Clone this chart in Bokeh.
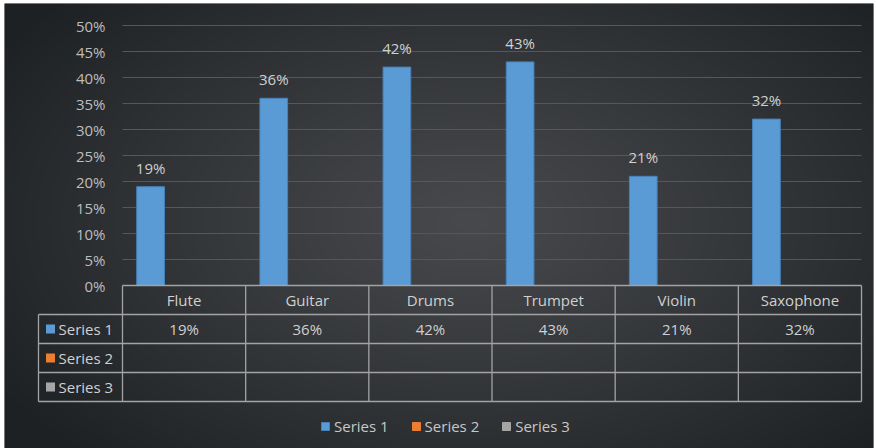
import numpy as np
from bokeh.plotting import figure
from bokeh.models import ColumnDataSource, Legend, LegendItem
from bokeh.core.properties import value
from bokeh.transform import dodge
from bokeh.embed import file_html
from bokeh.resources import INLINE

# ---- data -------------------------------------------------------------
categories = ["Flute", "Guitar", "Drums", "Trumpet", "Violin", "Saxophone"]
series_names = ["Series 1", "Series 2", "Series 3"]
series1 = [0.19, 0.36, 0.42, 0.43, 0.21, 0.32]
series2 = [None, None, None, None, None, None]
series3 = [None, None, None, None, None, None]
y_ticks = [0.0, 0.05, 0.10, 0.15, 0.20, 0.25, 0.30, 0.35, 0.40, 0.45, 0.50]
y_tick_labels = ["0%", "5%", "10%", "15%", "20%", "25%", "30%", "35%", "40%", "45%", "50%"]
series_colors = ["#5b9bd5", "#ed7d31", "#a5a5a5"]

# ---- page geometry (canvas pixels) ------------------------------------
W, H = 876, 448
PAD_L, PAD_T, PAD_R, PAD_B = 4, 3, 3, 0
X_ORIGIN = 122.0      # left edge of the first category column
CAT_W = 123.17        # width of one category column
Y_ORIGIN = 285.0      # pixel row of the 0% baseline
UNIT_H = 520.0        # pixels per 1.0 (100%)
ROW_H = 29.0          # data-table row height
TABLE_LEFT = 38.0

def px_x(px):
    return (px - X_ORIGIN) / CAT_W

def px_y(py):
    return (Y_ORIGIN - py) / UNIT_H

x_start, x_end = px_x(PAD_L), px_x(W - PAD_R)
y_start, y_end = px_y(H - PAD_B), px_y(PAD_T)

FONT = value("Open Sans")
FS = "15px"
TXT = "#d0d0d0"

p = figure(width=W, height=H, output_backend="svg", toolbar_location=None,
           x_range=(x_start, x_end), y_range=(y_start, y_end),
           x_axis_location=None, y_axis_location=None,
           min_border_left=PAD_L, min_border_right=PAD_R,
           min_border_top=PAD_T, min_border_bottom=PAD_B)
p.grid.visible = False
p.outline_line_color = None
p.border_fill_color = "white"
p.background_fill_color = "#2c2f32"

# ---- radial dark background -----------------------------------------------
fw, fh = W - PAD_L - PAD_R, H - PAD_T - PAD_B
yy, xx = np.mgrid[0:fh, 0:fw]
cx, cy = 470.0, 220.0
pxs = xx + PAD_L + 0.5
pys = (H - PAD_B) - (yy + 0.5)
d = np.sqrt(((pxs - cx) / 560.0) ** 2 + ((pys - cy) / 330.0) ** 2)
t = np.clip(d, 0, 1) ** 1.1
c_in = np.array([0x47, 0x49, 0x4c], dtype=float)
c_out = np.array([0x1e, 0x21, 0x24], dtype=float)
rgb = c_in[None, None, :] * (1 - t[..., None]) + c_out[None, None, :] * t[..., None]
img = np.empty((fh, fw), dtype=np.uint32)
view = img.view(dtype=np.uint8).reshape((fh, fw, 4))
view[..., 0] = rgb[..., 0].astype(np.uint8)
view[..., 1] = rgb[..., 1].astype(np.uint8)
view[..., 2] = rgb[..., 2].astype(np.uint8)
view[..., 3] = 255
p.image_rgba(image=[img], x=x_start, y=y_start, dw=x_end - x_start, dh=y_end - y_start,
             level="image")

# ---- gridlines and value-axis labels -------------------------------------
n_cat = len(categories)
grid_y = [v for v in y_ticks if v > 0]
p.segment(x0=[0] * len(grid_y), x1=[n_cat] * len(grid_y), y0=grid_y, y1=grid_y,
          line_color="#55585b", line_width=1)
p.text(x=[0] * len(y_ticks), y=y_ticks, text=y_tick_labels, x_offset=-17,
       text_align="right", text_baseline="middle", text_font=FONT,
       text_font_size=FS, text_color="#bdbdbd")

# ---- bars -------------------------------------------------------------------
src = ColumnDataSource(dict(
    x=[i + 0.5 for i in range(n_cat)],
    s1=series1,
    s2=[np.nan if v is None else v for v in series2],
    s3=[np.nan if v is None else v for v in series3],
    lbl=[f"{round(v * 100)}%" for v in series1],
    cat=categories,
))
offsets = [-0.272, 0.0, 0.272]
renderers = []
for key, off, col in zip(["s1", "s2", "s3"], offsets, series_colors):
    r = p.vbar(x=dodge("x", off), top=key, bottom=0, width=0.225, source=src,
               fill_color=col, line_color=col, line_width=1)
    renderers.append(r)
renderers[0].glyph.line_color = "#4682bb"

p.text(x=dodge("x", offsets[0]), y="s1", text="lbl", source=src, y_offset=-19,
       text_align="center", text_baseline="middle", text_font=FONT,
       text_font_size=FS, text_color=TXT)

# ---- data table below the plot ---------------------------------------------
rows_bottom = [Y_ORIGIN + ROW_H * k for k in range(1, 5)]
hx0 = [0.0] + [px_x(TABLE_LEFT)] * 4
hx1 = [n_cat] * 5
hy = [0.0] + [px_y(b) for b in rows_bottom]
p.segment(x0=hx0, x1=hx1, y0=hy, y1=hy, line_color="#a3a3a3", line_width=1.3)
vx = list(range(n_cat + 1)) + [px_x(TABLE_LEFT)]
vy0 = [0.0] * (n_cat + 1) + [px_y(rows_bottom[0])]
vy1 = [px_y(rows_bottom[-1])] * (n_cat + 2)
p.segment(x0=vx, x1=vx, y0=vy0, y1=vy1, line_color="#a3a3a3", line_width=1.3)

# category header row and Series 1 values row
p.text(x="x", y=0, text="cat", source=src, y_offset=ROW_H / 2,
       text_align="center", text_baseline="middle", text_font=FONT,
       text_font_size=FS, text_color=TXT)
p.text(x="x", y=0, text="lbl", source=src, y_offset=ROW_H * 1.5,
       text_align="center", text_baseline="middle", text_font=FONT,
       text_font_size=FS, text_color=TXT)

# row headers with colour keys
row_centers = [px_y(Y_ORIGIN + ROW_H * (k + 1.5)) for k in range(3)]
p.rect(x=[px_x(50)] * 3, y=row_centers, width=9, height=9,
       width_units="screen", height_units="screen",
       fill_color=series_colors, line_color=None)
p.text(x=[px_x(58)] * 3, y=row_centers, text=series_names,
       text_align="left", text_baseline="middle", text_font=FONT,
       text_font_size=FS, text_color=TXT)

# ---- legend ----------------------------------------------------------------
legend = Legend(
    items=[LegendItem(label=n, renderers=[r]) for n, r in zip(series_names, renderers)],
    orientation="horizontal", location=(316, 12),
    glyph_width=10, glyph_height=10, label_standoff=4, spacing=22,
    padding=0, margin=0, label_height=16,
    label_text_font="Open Sans", label_text_font_size=FS, label_text_color="#c8c8c8",
    background_fill_alpha=0, border_line_alpha=0,
)
p.add_layout(legend)

open("out.html", "w").write(file_html(p, INLINE))
